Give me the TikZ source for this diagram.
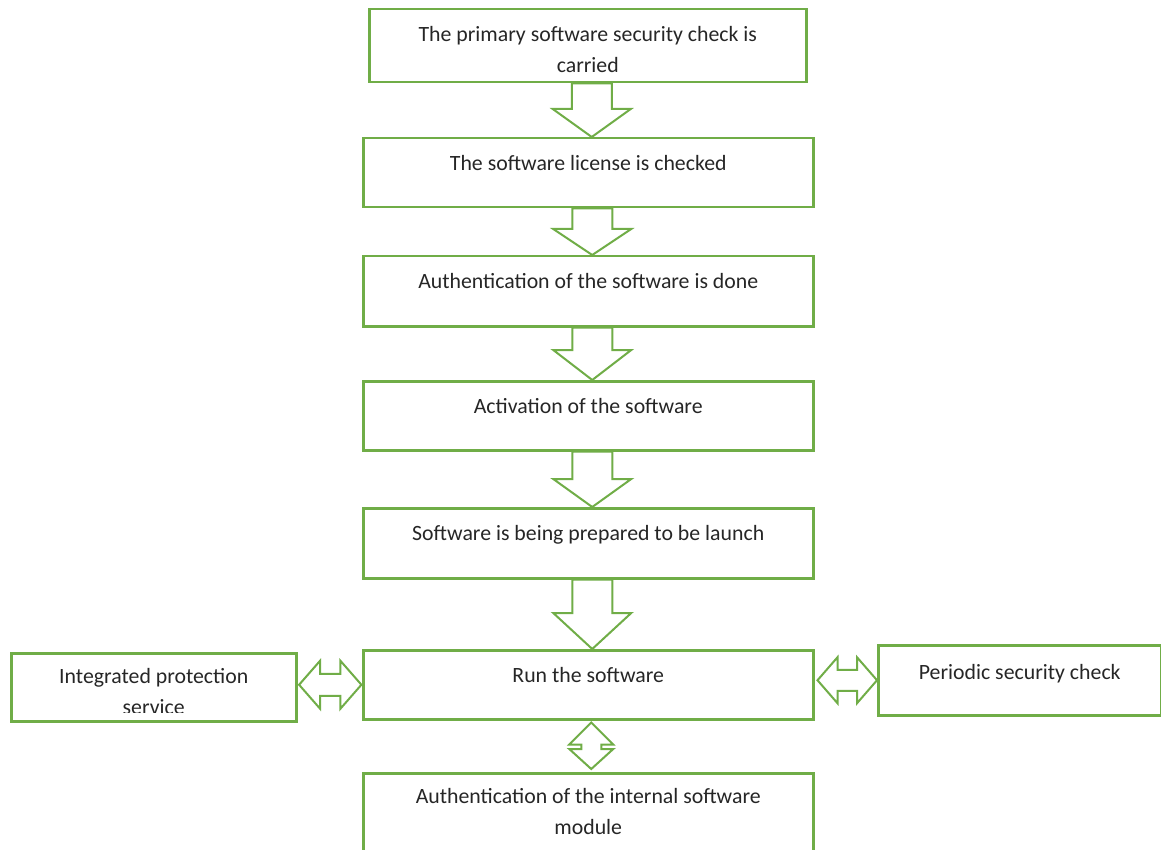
\documentclass[tikz,border=0pt]{standalone}
\usepackage{fontspec}
\setmainfont{Carlito}
\usetikzlibrary{calc}
\definecolor{grn}{HTML}{70AD47}
\definecolor{txtc}{HTML}{262626}
\tikzset{
  box/.style={draw=grn, line width=1.25pt, rectangle, inner sep=0pt, anchor=north west},
  blk/.style={draw=grn, line width=1pt, line join=miter, fill=white},
  txt/.style={font=\fontsize{10.9}{15.5}\selectfont, text=txtc, align=center, inner sep=0pt, anchor=north}
}
% block arrow down: #1 from node, #2 to node, #3 head length
\newcommand\blkdown[3]{%
  \draw[blk] let \p1=(#1.south), \p2=(#2.north) in
    (\x1-8pt,\y1) -- (\x1+12pt,\y1) -- (\x1+12pt,\y2+#3) -- (\x1+21.5pt,\y2+#3)
    -- (\x1+2pt,\y2) -- (\x1-17.5pt,\y2+#3) -- (\x1-8pt,\y2+#3) -- cycle;}
% double block arrow horizontal: #1 left node, #2 right node, #3 shaft half, #4 head half, #5 head length, #6 left gap, #7 right gap
\newcommand\blkh[7]{%
  \draw[blk] let \p1=(#1.east), \p2=(#2.west), \n1={\x1+#6}, \n2={\x2-#7} in
    (\n1,\y2) -- (\n1+#5,\y2+#4) -- (\n1+#5,\y2+#3) -- (\n2-#5,\y2+#3) -- (\n2-#5,\y2+#4)
    -- (\n2,\y2) -- (\n2-#5,\y2-#4) -- (\n2-#5,\y2-#3) -- (\n1+#5,\y2-#3) -- (\n1+#5,\y2-#4) -- cycle;}
\begin{document}
\begin{tikzpicture}[x=0.5pt,y=-0.5pt]
\useasboundingbox (0,0) rectangle (1161,850);
\clip (0,0) rectangle (1161,850);
% boxes
\node[box, minimum width=218.5pt, minimum height=36.5pt] (b1) at (368,8) {};
\node[box, minimum width=225pt, minimum height=34.5pt] (b2) at (362,137) {};
\node[box, minimum width=225pt, minimum height=35pt] (b3) at (362,255) {};
\node[box, minimum width=225pt, minimum height=34.5pt] (b4) at (362,380) {};
\node[box, minimum width=225pt, minimum height=35pt] (b5) at (362,507) {};
\node[box, minimum width=225pt, minimum height=34.5pt] (b6) at (362,649) {};
\node[box, minimum width=142.5pt, minimum height=34pt] (bl) at (10,652) {};
\node[box, minimum width=141.5pt, minimum height=35pt] (br) at (877,644) {};
\node[box, minimum width=225pt, minimum height=50pt] (bb) at (362,772) {};
% texts
\node[txt] (t1) at ([yshift=-9pt]b1.north) {The primary software security check is\\carried};
\node[txt] (t2) at ([yshift=-9pt]b2.north) {The software license is checked};
\node[txt] (t3) at ([yshift=-9pt]b3.north) {Authentication of the software is done};
\node[txt] (t4) at ([yshift=-9pt]b4.north) {Activation of the software};
\node[txt] (t5) at ([yshift=-9pt]b5.north) {Software is being prepared to be launch};
\node[txt] (t6) at ([yshift=-9pt]b6.north) {Run the software};
\begin{scope}
  \clip ([xshift=0.6pt,yshift=-0.6pt]bl.north west) rectangle ([xshift=-0.6pt,yshift=5pt]bl.south east);
  \node[txt] (tl) at ([yshift=-8pt]bl.north) {Integrated protection\\service};
\end{scope}
\node[txt] (tr) at ([yshift=-10pt]br.north) {Periodic security check};
\node[txt] (tb) at ([yshift=-8pt]bb.north) {Authentication of the internal software\\module};
% block arrows
\blkdown{b1}{b2}{14pt}
\blkdown{b2}{b3}{13pt}
\blkdown{b3}{b4}{15pt}
\blkdown{b4}{b5}{14pt}
\blkdown{b5}{b6}{18pt}
\blkh{bl}{b6}{5.5pt}{12pt}{10.5pt}{0.8pt}{0.3pt}
\blkh{b6}{br}{5.25pt}{11.5pt}{10pt}{1.5pt}{0pt}
\draw[blk] let \p1=(b6.south), \p2=(bb.north), \n1={\x1+1.5pt}, \n2={\y1-1pt}, \n3={\y2+1.5pt} in
  (\n1,\n2) -- (\n1+11pt,\n2-11pt) -- (\n1+5pt,\n2-11pt) -- (\n1+5pt,\n3+10pt) -- (\n1+11pt,\n3+10pt)
  -- (\n1,\n3) -- (\n1-11pt,\n3+10pt) -- (\n1-5pt,\n3+10pt) -- (\n1-5pt,\n2-11pt) -- (\n1-11pt,\n2-11pt) -- cycle;
\end{tikzpicture}
\end{document}
